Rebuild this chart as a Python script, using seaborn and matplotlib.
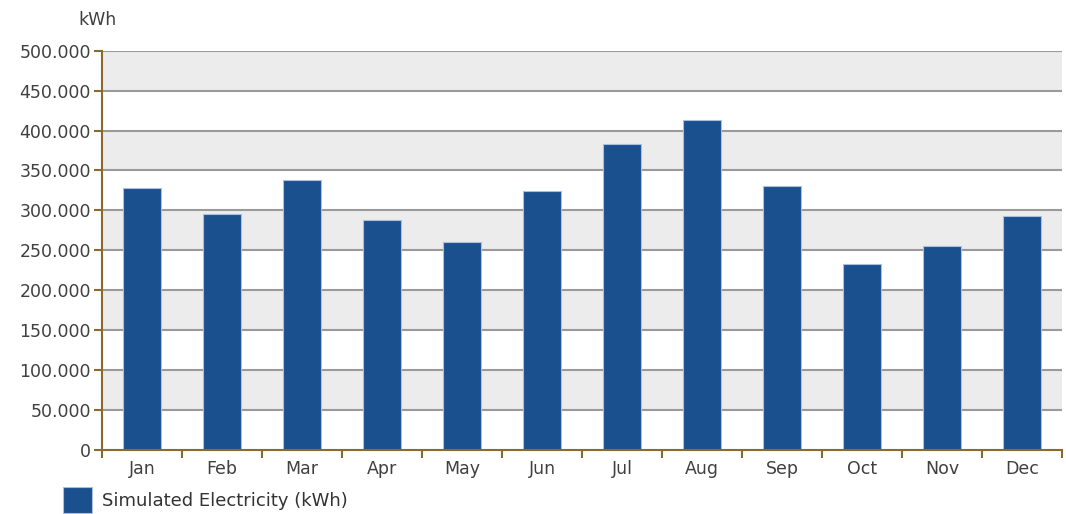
import matplotlib
matplotlib.use("Agg")
import matplotlib.pyplot as plt
import seaborn as sns
import pandas as pd
import numpy as np
from matplotlib.ticker import FuncFormatter, FixedLocator
from matplotlib.patches import Rectangle

months = ["Jan", "Feb", "Mar", "Apr", "May", "Jun", "Jul", "Aug", "Sep", "Oct", "Nov", "Dec"]
electricity = [328400, 295800, 338300, 288300, 260800, 324000, 383300, 413300, 330800, 233300, 255800, 293300]
y_ticks = [0, 50000, 100000, 150000, 200000, 250000, 300000, 350000, 400000, 450000, 500000]
series_label = "Simulated Electricity (kWh)"
unit_label = "kWh"

df = pd.DataFrame({"month": months, "value": electricity})

sns.set_style("white")
plt.rcParams["font.family"] = ["DejaVu Sans"]

W, H = 1066, 514
fig = plt.figure(figsize=(W / 100, H / 100), dpi=100, facecolor="white")
ax = fig.add_axes([102 / W, 1 - 450 / H, 960 / W, 399.3 / H])
ax.set_facecolor("white")

bar_color = "#1a508e"
sns.barplot(data=df, x="month", y="value", color=bar_color, width=0.475,
            saturation=1, edgecolor="#a9bfdc", linewidth=0.8, ax=ax,
            label=series_label, zorder=3)

ax.set_xlim(-0.5, len(months) - 0.5)
ax.set_ylim(0, 500000)
ax.set_yticks(y_ticks)

# alternating background bands: white 0-50k, gray 50k-100k, ...
ytrans = ax.get_yaxis_transform()
for i in range(len(y_ticks) - 1):
    fc = "#ececec" if i % 2 == 1 else "#ffffff"
    ax.add_patch(Rectangle((0, y_ticks[i]), 1, y_ticks[i + 1] - y_ticks[i],
                           transform=ytrans, facecolor=fc,
                           edgecolor="none", zorder=0.5))
for t in y_ticks[1:]:
    ax.axhline(t, color="#9a9a9a", lw=1.5, zorder=1)

def fmt(v, pos):
    if v == 0:
        return "0"
    return f"{int(v):,}".replace(",", ".")

ax.yaxis.set_major_formatter(FuncFormatter(fmt))
ax.set_xlabel("")
ax.set_ylabel("")

brown = "#8b6a2e"
for s in ["top", "right"]:
    ax.spines[s].set_visible(False)
for s in ["left", "bottom"]:
    ax.spines[s].set_color(brown)
    ax.spines[s].set_linewidth(1.5)
    ax.spines[s].set_zorder(5)

ax.tick_params(axis="y", which="major", length=6, width=1.5, color=brown,
               labelsize=12.5, labelcolor="#404040", pad=2, left=True)
ax.tick_params(axis="x", which="major", length=0, labelsize=12.5,
               labelcolor="#404040", pad=7)
ax.xaxis.set_minor_locator(FixedLocator(np.arange(-0.5, len(months), 1.0)))
ax.tick_params(axis="x", which="minor", length=6, width=1.5, color=brown, bottom=True)

fig.text(78 / W, 1 - 20 / H, unit_label, fontsize=12.5, color="#404040", va="center", ha="left")

leg = ax.legend(loc="upper left", bbox_to_anchor=(58 / W, 1 - 482 / H),
                bbox_transform=fig.transFigure, frameon=False, fontsize=13,
                handlelength=1.6, handleheight=1.8, handletextpad=0.55,
                borderaxespad=0, borderpad=0.3)
for t in leg.get_texts():
    t.set_color("#333333")

fig.savefig("out.png", dpi=100, facecolor="white")
